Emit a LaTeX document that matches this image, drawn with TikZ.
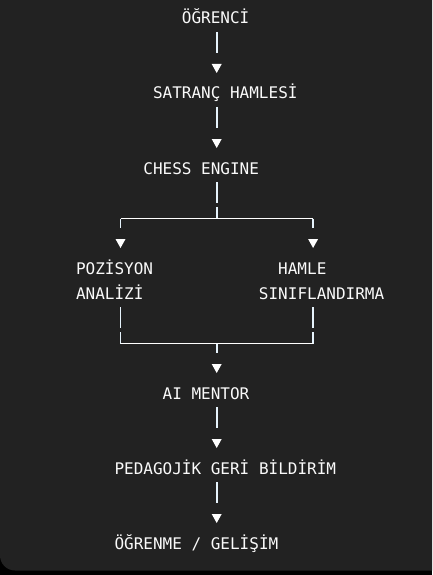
\documentclass[tikz,border=0pt]{standalone}
\usepackage{fontspec}
\setmonofont{DejaVu Sans Mono}
\usetikzlibrary{calc}
\definecolor{bgc}{HTML}{222222}
\definecolor{txt}{HTML}{FAFAFA}
\definecolor{barc}{HTML}{E6F3FC}
\tikzset{
  lbl/.style={anchor=base west, inner sep=0pt, outer sep=0pt, text=txt,
    font=\ttfamily\fontsize{16}{25}\selectfont},
  vbar/.style={draw=barc, line width=1.8pt},
  hbar/.style={draw=white, line width=1.6pt},
  tipfill/.style={fill=white},
}
% vertical bar below a text row, in the column of coordinate #2
\newcommand\barfrom[2]{\draw[vbar] ($(#1.base -| #2)+(0,8)$) -- ($(#1.base -| #2)+(0,29)$);}
% triangle above text node #1, in the column of coordinate #2
\newcommand\tipto[2]{\fill[tipfill] ($(#1.base -| #2)+(-5,-35)$) -- ($(#1.base -| #2)+(5,-35)$) -- ($(#1.base -| #2)+(0,-26)$) -- cycle;}
\begin{document}
\begin{tikzpicture}[x=1pt,y=-1pt]
\useasboundingbox (0,0) rectangle (432,575);
\fill[black] (0,0) rectangle (432,575);
\fill[bgc] (0,0) -- (432,0) -- (432,570.5) -- (15,570.5) .. controls (6.7,570.5) and (0,563.8) .. (0,555.5) -- cycle;

\coordinate (mx) at (216.7,0);
\coordinate (lx) at (120.5,0);
\coordinate (rx) at (313.1,0);

\node[lbl] (ogrenci)   at (76+11*9.63, 24)  {ÖĞRENCİ};
\node[lbl] (hamle)     at (76+8*9.63, 99)   {SATRANÇ HAMLESİ};
\node[lbl] (engine)    at (76+7*9.63, 174)  {CHESS ENGINE};
\node[lbl] (pozisyon)  at (76, 274)         {POZİSYON};
\node[lbl] (analizi)   at (76, 299)         {ANALİZİ};
\node[lbl] (hamle1)    at (76+21*9.63, 274) {HAMLE};
\node[lbl] (sinif)     at (76+19*9.63, 299) {SINIFLANDIRMA};
\node[lbl] (aimentor)  at (76+9*9.63, 399)  {AI MENTOR};
\node[lbl] (pedagojik) at (76+4*9.63, 474)  {PEDAGOJİK GERİ BİLDİRİM};
\node[lbl] (ogrenme)   at (76+4*9.63, 549)  {ÖĞRENME / GELİŞİM};

% main flow
\barfrom{ogrenci}{mx}  \tipto{hamle}{mx}
\barfrom{hamle}{mx}    \tipto{engine}{mx}

% split
\draw[vbar] ($(engine.base -| mx)+(0,8)$) -- ($(engine.base -| mx)+(0,29)$);
\draw[vbar] ($(engine.base -| mx)+(0,33)$) -- ($(engine.base -| mx)+(0,44.5)$);
\draw[hbar] ($(engine.base -| lx)+(0,44.5)$) -- ($(engine.base -| rx)+(0,44.5)$);
\draw[vbar] ($(engine.base -| lx)+(0,44.5)$) -- ($(engine.base -| lx)+(0,54)$);
\draw[vbar] ($(engine.base -| rx)+(0,44.5)$) -- ($(engine.base -| rx)+(0,54)$);
\tipto{pozisyon}{lx}   \tipto{hamle1}{rx}

% merge
\barfrom{analizi}{lx}  \barfrom{sinif}{rx}
\draw[vbar] ($(analizi.base -| lx)+(0,33)$) -- ($(analizi.base -| lx)+(0,44.5)$);
\draw[vbar] ($(sinif.base -| rx)+(0,33)$) -- ($(sinif.base -| rx)+(0,44.5)$);
\draw[hbar] ($(analizi.base -| lx)+(0,44.5)$) -- ($(sinif.base -| rx)+(0,44.5)$);
\draw[vbar] ($(analizi.base -| mx)+(0,44.5)$) -- ($(analizi.base -| mx)+(0,54)$);
\tipto{aimentor}{mx}

\barfrom{aimentor}{mx}  \tipto{pedagojik}{mx}
\barfrom{pedagojik}{mx} \tipto{ogrenme}{mx}
\end{tikzpicture}
\end{document}
